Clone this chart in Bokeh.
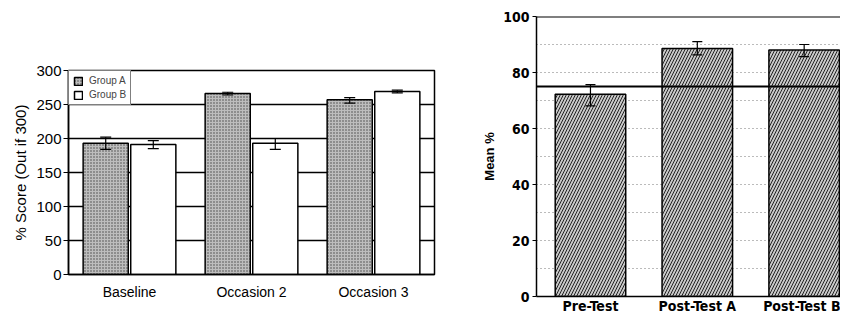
from jinja2 import Template
from bokeh.plotting import figure
from bokeh.models import (ColumnDataSource, Range1d, Whisker, TeeHead, Span,
                          FixedTicker, Legend, LegendItem)
from bokeh.embed import file_html
from bokeh.resources import INLINE

# ---------------- data ----------------
left_categories = ["Baseline", "Occasion 2", "Occasion 3"]
group_a = [193, 266, 257]
group_a_lower = [184, 264, 252]
group_a_upper = [202, 268, 260]
group_b = [191, 193, 269]
group_b_lower = [185, 184, 267]
group_b_upper = [197, 200, 271]
left_ticks = [0, 50, 100, 150, 200, 250, 300]

right_categories = ["Pre-Test", "Post-Test A", "Post-Test B"]
mean_pct = [72.2, 88.6, 88.0]
mean_lower = [68.1, 86.3, 85.7]
mean_upper = [75.7, 91.0, 90.0]
right_ticks = [0, 20, 40, 60, 80, 100]
right_minor_ticks = [10, 30, 50, 70, 90]
criterion = 75

SANS = "Liberation Sans"
NARROW = "'DejaVu Sans Condensed', 'Liberation Sans', sans-serif"

# ---------------- left chart ----------------
off = 0.195
bw = 0.37
xa = [i - off for i in range(len(left_categories))]
xb = [i + off for i in range(len(left_categories))]
src_a = ColumnDataSource(dict(x=xa, top=group_a, lo=group_a_lower, hi=group_a_upper))
src_b = ColumnDataSource(dict(x=xb, top=group_b, lo=group_b_lower, hi=group_b_upper))

p1 = figure(width=470, height=308, output_backend="svg", toolbar_location=None,
            x_range=Range1d(-0.5, 2.5), y_range=Range1d(0, 300),
            min_border_left=60, min_border_right=44, min_border_top=62,
            min_border_bottom=42)
p1.outline_line_color = "black"
p1.outline_line_width = 1.5
p1.background_fill_color = "white"
p1.border_fill_color = "white"

ra = p1.vbar(x="x", top="top", width=bw, source=src_a, fill_color="#bdbdbd",
             hatch_pattern="dot", hatch_color="#444444", hatch_scale=3,
             line_color="black", line_width=1.5)
rb = p1.vbar(x="x", top="top", width=bw, source=src_b, fill_color="white",
             line_color="black", line_width=1.5)
for s in (src_a, src_b):
    w = Whisker(source=s, base="x", upper="hi", lower="lo", level="overlay",
                line_color="black", line_width=1.2,
                upper_head=TeeHead(size=11, line_color="black", line_width=1.2),
                lower_head=TeeHead(size=11, line_color="black", line_width=1.2))
    p1.add_layout(w)

p1.xgrid.grid_line_color = None
p1.ygrid.grid_line_color = "black"
p1.ygrid.grid_line_width = 1.3
p1.yaxis.ticker = FixedTicker(ticks=left_ticks)
p1.xaxis.ticker = FixedTicker(ticks=list(range(len(left_categories))))
p1.xaxis.major_label_overrides = {i: c for i, c in enumerate(left_categories)}
p1.xaxis.major_tick_line_color = None
p1.xaxis.major_tick_out = 0
p1.xaxis.minor_tick_line_color = None
p1.yaxis.minor_tick_line_color = None
p1.yaxis.major_tick_out = 5
p1.yaxis.major_tick_in = 0
p1.yaxis.major_label_standoff = 2
p1.axis.axis_line_color = "black"
p1.axis.axis_line_width = 1.5
p1.yaxis.major_label_text_font = SANS
p1.yaxis.major_label_text_font_size = "15px"
p1.yaxis.major_label_text_color = "black"
p1.xaxis.major_label_text_font = SANS
p1.xaxis.major_label_text_font_size = "14px"
p1.xaxis.major_label_text_color = "black"
p1.xaxis.major_label_standoff = 9
p1.yaxis.axis_label = "% Score (Out if 300)"
p1.yaxis.axis_label_text_font = SANS
p1.yaxis.axis_label_text_font_style = "normal"
p1.yaxis.axis_label_text_font_size = "15px"
p1.yaxis.axis_label_text_color = "black"
p1.yaxis.axis_label_standoff = 4

legend = Legend(items=[LegendItem(label="Group A", renderers=[ra]),
                       LegendItem(label="Group B", renderers=[rb])],
                location="top_left", margin=0, padding=4, spacing=3,
                glyph_height=10, glyph_width=10, label_height=10,
                label_text_font=SANS, label_text_font_size="10px",
                label_standoff=6, border_line_color="black", border_line_width=1,
                background_fill_alpha=1)
p1.add_layout(legend)

# ---------------- right chart ----------------
xr = list(range(len(right_categories)))
src_r = ColumnDataSource(dict(x=xr, top=mean_pct, lo=mean_lower, hi=mean_upper))

p2 = figure(width=362, height=308, output_backend="svg", toolbar_location=None,
            x_range=Range1d(-0.505, 2.34), y_range=Range1d(0, 100),
            min_border_left=58, min_border_right=0, min_border_top=8,
            min_border_bottom=14)
p2.outline_line_color = None
p2.background_fill_color = "white"
p2.border_fill_color = "white"

p2.vbar(x="x", top="top", width=0.66, source=src_r, fill_color="#c8c8c8",
        hatch_pattern="/", hatch_color="#222222", hatch_scale=6, hatch_weight=1,
        line_color="black", line_width=1.5)
p2.add_layout(Whisker(source=src_r, base="x", upper="hi", lower="lo", level="overlay",
                      line_color="black", line_width=1.2,
                      upper_head=TeeHead(size=10, line_color="black", line_width=1.2),
                      lower_head=TeeHead(size=10, line_color="black", line_width=1.2)))
p2.add_layout(Span(location=criterion, dimension="width", line_color="black",
                   line_width=2, level="overlay"))
p2.add_layout(Span(location=right_ticks[-1], dimension="width", line_color="black",
                   line_width=2, level="overlay"))

p2.xgrid.grid_line_color = None
p2.yaxis.ticker = FixedTicker(ticks=right_ticks, minor_ticks=right_minor_ticks)
p2.ygrid.grid_line_color = "#777777"
p2.ygrid.grid_line_dash = "1 3"
p2.ygrid.minor_grid_line_color = "#777777"
p2.ygrid.minor_grid_line_dash = "1 3"
p2.xaxis.ticker = FixedTicker(ticks=xr)
p2.xaxis.major_label_overrides = {i: c for i, c in enumerate(right_categories)}
p2.xaxis.major_tick_line_color = None
p2.xaxis.major_tick_out = 0
p2.xaxis.minor_tick_line_color = None
p2.yaxis.minor_tick_line_color = None
p2.yaxis.major_tick_out = 4
p2.yaxis.major_tick_in = 0
p2.yaxis.major_label_standoff = 3
p2.axis.axis_line_color = "black"
p2.axis.axis_line_width = 1.5
p2.axis.major_label_text_font = NARROW
p2.axis.major_label_text_font_style = "bold"
p2.axis.major_label_text_color = "black"
p2.yaxis.major_label_text_font_size = "14px"
p2.xaxis.major_label_text_font_size = "14px"
p2.xaxis.major_label_standoff = 1
p2.yaxis.axis_label = "Mean %"
p2.yaxis.axis_label_text_font = SANS
p2.yaxis.axis_label_text_font_style = "bold"
p2.yaxis.axis_label_text_font_size = "13px"
p2.yaxis.axis_label_text_color = "black"
p2.yaxis.axis_label_standoff = 3

# two independent roots, placed side by side (no frame alignment between them)
PAGE = Template("""<!DOCTYPE html>
<html lang="en">
<head>
<meta charset="utf-8">
<title>{{ title }}</title>
{{ bokeh_css }}
{{ bokeh_js }}
</head>
<body style="margin:8px">
<div style="display:flex;flex-direction:row;align-items:flex-start">
{{ plot_div }}
</div>
{{ plot_script }}
</body>
</html>""")

open("out.html", "w").write(file_html([p1, p2], INLINE, template=PAGE))
